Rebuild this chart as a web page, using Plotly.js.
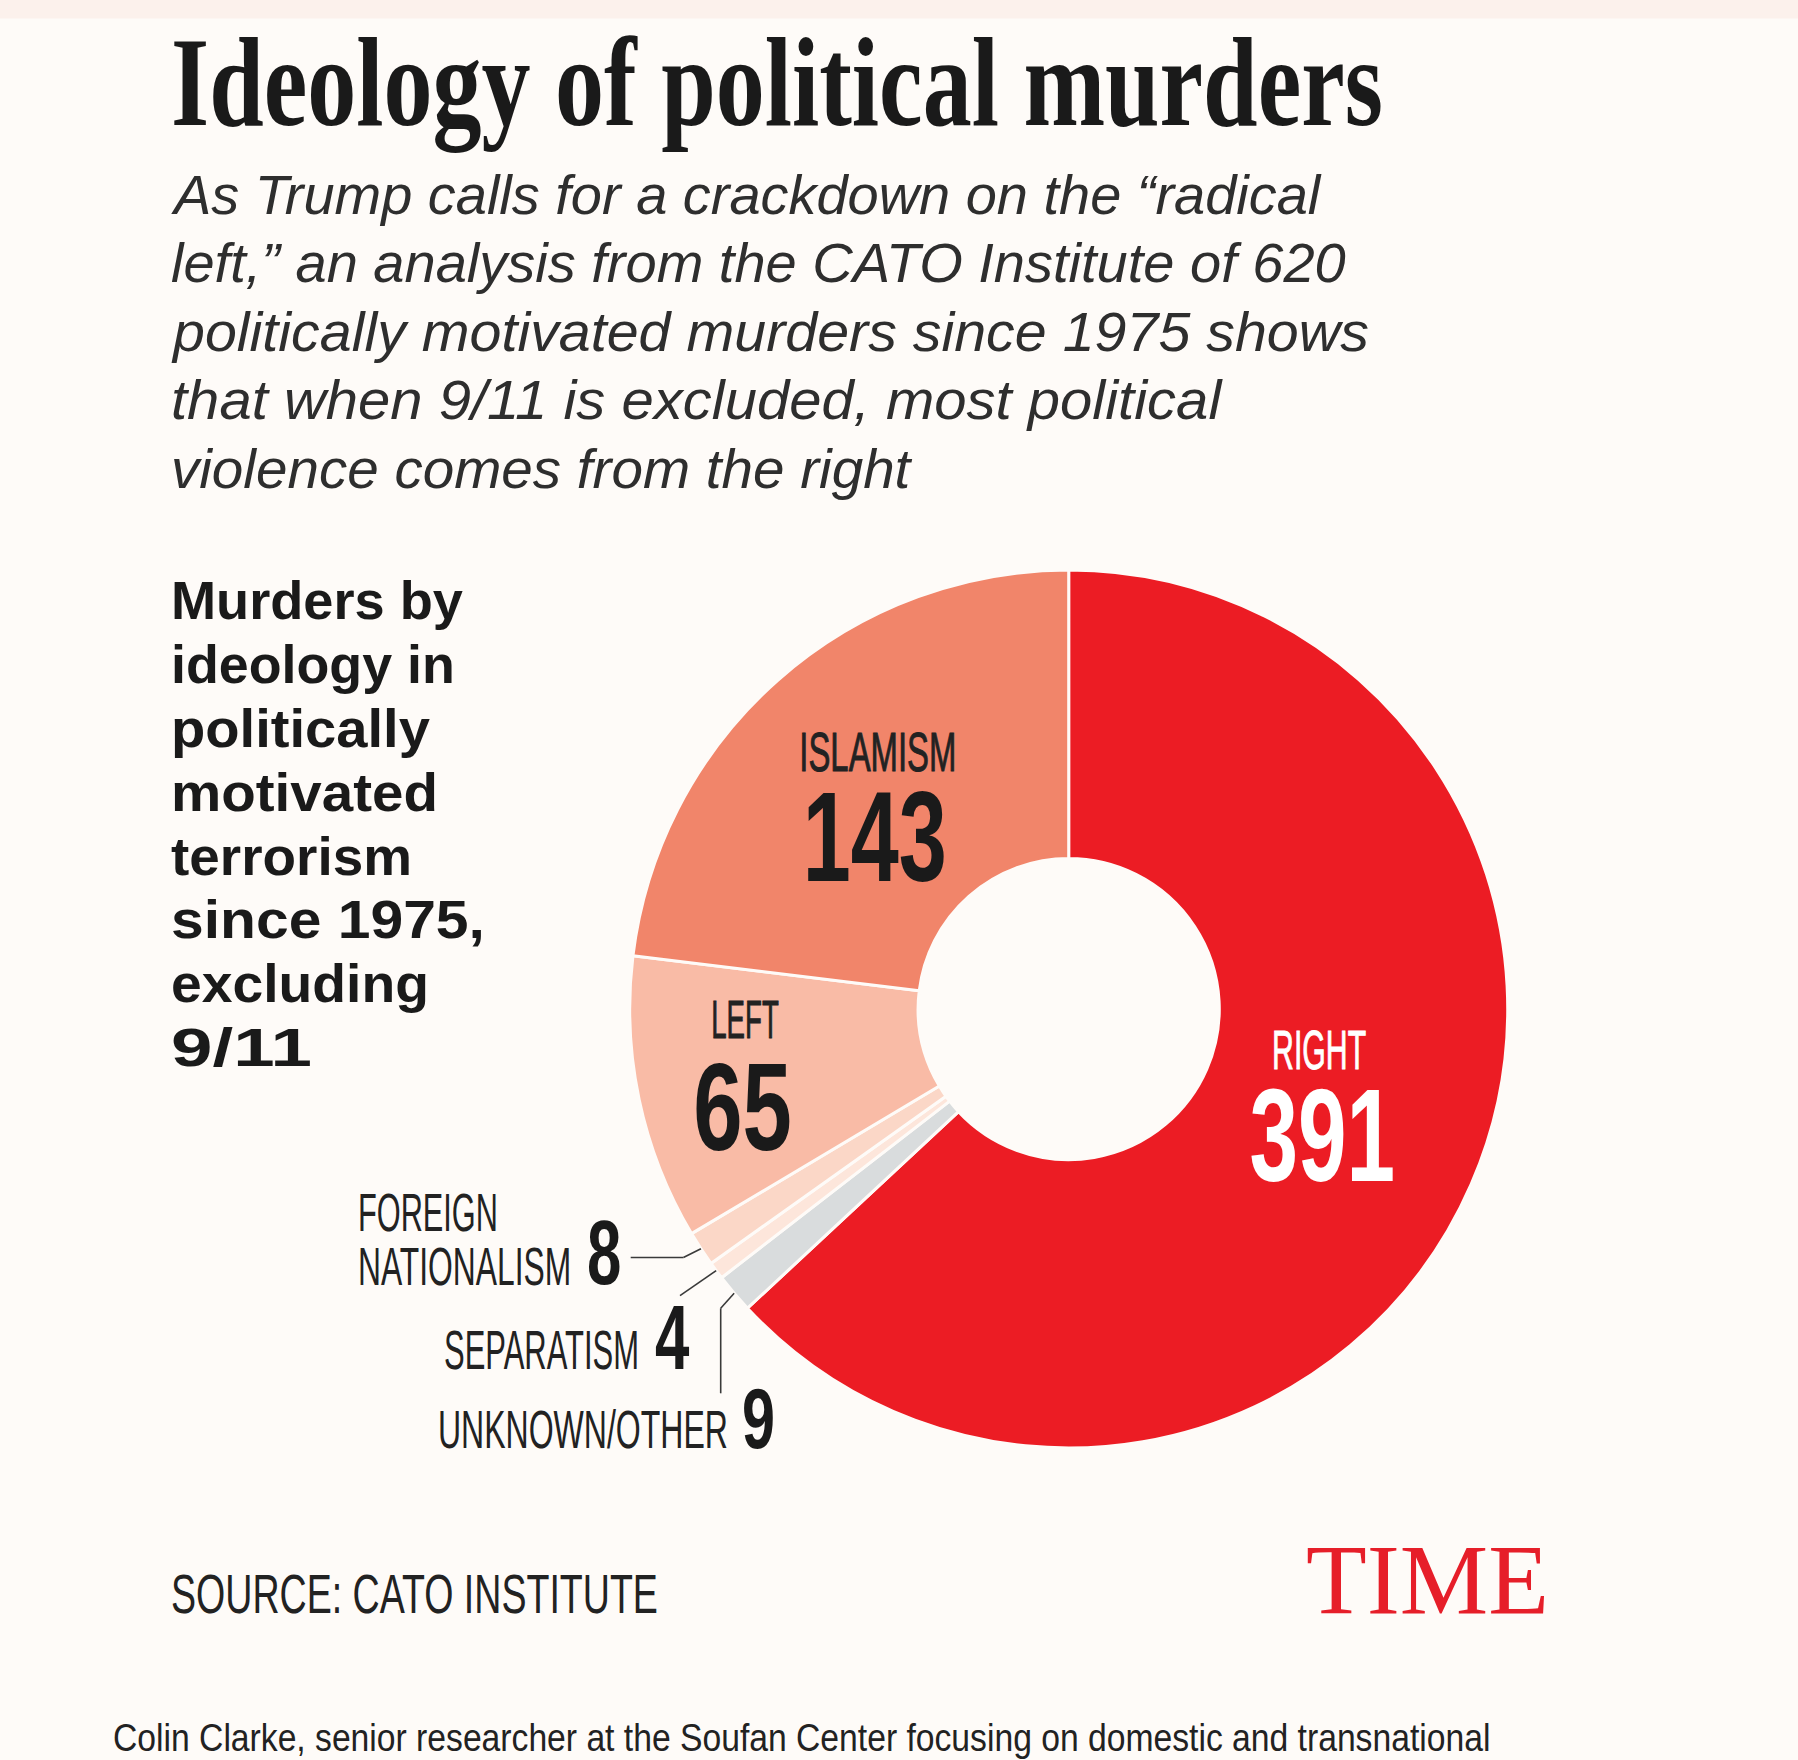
<!DOCTYPE html>
<html>
<head>
<meta charset="utf-8">
<script src="https://cdn.plot.ly/plotly-3.0.1.min.js"></script>
<style>
html,body{margin:0;padding:0;background:#fefbf8;}
#chart{width:1798px;height:1760px;}
</style>
</head>
<body>
<div id="chart"></div>
<script>
// ---------- data ----------
const categories = ["RIGHT", "UNKNOWN/OTHER", "SEPARATISM", "FOREIGN NATIONALISM", "LEFT", "ISLAMISM"];
const values = [391, 9, 4, 8, 65, 143];
const sliceColors = ["#ec1c24", "#d9dcdd", "#fde6db", "#fbd7c7", "#f9bba6", "#f1856a"];

const titleText = "Ideology of political murders";
const subtitleLines = [
  "As Trump calls for a crackdown on the \u201cradical",
  "left,\u201d an analysis from the CATO Institute of 620",
  "politically motivated murders since 1975 shows",
  "that when 9/11 is excluded, most political",
  "violence comes from the right"
];
const sideLines = ["Murders by", "ideology in", "politically", "motivated", "terrorism", "since 1975,", "excluding", "9/11"];
const sourceText = "SOURCE: CATO INSTITUTE";
const brandText = "TIME";
const footerText = "Colin Clarke, senior researcher at the Soufan Center focusing on domestic and transnational";

// ---------- page geometry ----------
const W = 1798, H = 1760;
const CX = 1068.7, CY = 1009, R = 439;
const px = x => x / W;
const py = y => 1 - y / H;

const SANS = "Liberation Sans, Arial, sans-serif";
const SERIF = "Liberation Serif, Times New Roman, serif";
const ASC = {sans: 0.905, serif: 0.891}, DESC = {sans: 0.212, serif: 0.216};

const annSpecs = [];
function txt(text, x, baseline, size, o) {
  o = o || {};
  const key = o.serif ? 'serif' : 'sans';
  const anchor = o.anchor || 'left';
  const yc = baseline - (ASC[key] - DESC[key]) / 2 * size;
  annSpecs.push({
    ann: {
      text: text, xref: 'paper', yref: 'paper', borderpad: 0,
      x: px(x), y: py(yc),
      xanchor: anchor, yanchor: 'middle', showarrow: false, align: anchor,
      font: {family: o.serif ? SERIF : SANS, size: size, color: o.color || '#1c1c1c',
             weight: o.weight || 400, style: o.style || 'normal'}
    },
    w: o.w || null, anchor: anchor, stroke: o.stroke || 0, color: o.color || '#1c1c1c'
  });
}

// title
txt(titleText, 170, 125, 127, {serif: true, weight: 700, w: 1212, color: '#1a1a1a'});
// subtitle
const subBase = [213.5, 282, 350.5, 419, 487.5];
const subW = [1151, 1175, 1198, 1052, 742];
subtitleLines.forEach((s, i) => txt(s, 170, subBase[i], 56, {style: 'italic', w: subW[i], color: '#2e2e2e'}));
// side block
const sideBase = [619, 683, 746.5, 810.5, 875, 938, 1002, 1066];
const sideW = [292, 284, 259, 267, 241, 314, 258, 141];
sideLines.forEach((s, i) => txt(s, 170, sideBase[i], 54, {weight: 700, w: sideW[i], color: '#1a1a1a'}));

// in-slice labels (Islamism, Left, Right)
txt(categories[5], 877.6, 770.6, 56, {anchor: 'center', w: 157, color: '#222', stroke: 1});
txt(String(values[5]), 875, 880.7, 128, {anchor: 'center', weight: 700, w: 144, color: '#1a1a1a'});
txt(categories[4], 745, 1037.8, 54, {anchor: 'center', w: 67.6, color: '#222', stroke: 1});
txt(String(values[4]), 742, 1150, 125, {anchor: 'center', weight: 700, w: 98.6, color: '#1a1a1a'});
txt(categories[0], 1318.7, 1068.7, 56, {anchor: 'center', w: 94, color: '#ffffff', stroke: 1});
txt(String(values[0]), 1322.8, 1181, 131, {anchor: 'center', weight: 700, w: 145.6, color: '#ffffff'});

// outside labels
const fn = categories[3].split(' ');
txt(fn[0], 356.6, 1230.4, 54, {w: 140, color: '#222'});
txt(fn[1], 356.6, 1284.3, 54, {w: 213.3, color: '#222'});
txt(String(values[3]), 586, 1284.3, 90, {weight: 700, w: 34.4, color: '#1a1a1a'});
txt(categories[2], 442.6, 1369, 56, {w: 195, color: '#222'});
txt(String(values[2]), 653.6, 1369, 90, {weight: 700, w: 34.4, color: '#1a1a1a'});
txt(categories[1], 437, 1448, 54, {w: 290, color: '#222'});
txt(String(values[1]), 740.8, 1448, 85, {weight: 700, w: 33, color: '#1a1a1a'});

// source, brand, footer
txt(sourceText, 169.7, 1613.4, 56, {w: 487, color: '#222'});
txt(brandText, 1305, 1613.4, 99, {serif: true, w: 243, color: '#e61e29'});
txt(footerText, 112.4, 1751, 38, {w: 1378, color: '#222'});

// ---------- leader lines from slice mid-angles ----------
const total = values.reduce((a, b) => a + b, 0);
const midAngle = [];
let cum = 0;
values.forEach(v => { midAngle.push((cum + v / 2) / total * 2 * Math.PI); cum += v; });
const edgePt = i => [CX + R * Math.sin(midAngle[i]), CY - R * Math.cos(midAngle[i])];

const shapes = [];
shapes.push({type: 'rect', xref: 'paper', yref: 'paper', x0: 0, x1: 1, y0: py(18.5), y1: 1,
             fillcolor: '#fcf1ec', line: {width: 0}, layer: 'below'});
function seg(a, b) {
  shapes.push({type: 'line', xref: 'paper', yref: 'paper', x0: px(a[0]), y0: py(a[1]), x1: px(b[0]), y1: py(b[1]),
               line: {color: '#3a3a3a', width: 1.6}});
}
// foreign nationalism
seg([630.7, 1257.5], [683.4, 1257.5]); seg([683.4, 1257.5], edgePt(3));
// separatism
seg([680, 1295.7], edgePt(2));
// unknown / other
seg([720.7, 1393.3], [720.7, 1308.3]); seg([720.7, 1308.3], edgePt(1));

// ---------- pie ----------
const data = [{
  type: 'pie', values: values, labels: categories, sort: false,
  direction: 'clockwise', rotation: 0, hole: 0.343,
  marker: {colors: sliceColors, line: {color: '#fefbf8', width: 3}},
  textinfo: 'none', hoverinfo: 'skip', showlegend: false,
  domain: {x: [px(CX - R), px(CX + R)], y: [py(CY + R), py(CY - R)]}
}];

const layout = {
  width: W, height: H, margin: {l: 0, r: 0, t: 0, b: 0},
  paper_bgcolor: '#fefbf8', plot_bgcolor: '#fefbf8', showlegend: false,
  annotations: annSpecs.map(s => s.ann), shapes: shapes
};

function squeeze(el, k, ax) {
  const prev = el.getAttribute('transform') || '';
  el.setAttribute('transform', prev + ' translate(' + ax + ',0) scale(' + k + ',1) translate(' + (-ax) + ',0)');
}

const gd = document.getElementById('chart');
Plotly.newPlot(gd, data, layout, {staticPlot: true, displayModeBar: false}).then(() => {
  annSpecs.forEach((s, i) => {
    const el = gd.querySelector('g.annotation[data-index="' + i + '"] text.annotation-text');
    if (!el) return;
    if (s.stroke) {
      el.style.stroke = s.color;
      el.style.strokeWidth = s.stroke + 'px';
    }
    if (!s.w) return;
    const bb = el.getBBox();
    if (!bb.width) return;
    const k = s.w / bb.width;
    let ax = bb.x;
    if (s.anchor === 'center') ax = bb.x + bb.width / 2;
    else if (s.anchor === 'right') ax = bb.x + bb.width;
    squeeze(el, k, ax);
  });
});
</script>
</body>
</html>
